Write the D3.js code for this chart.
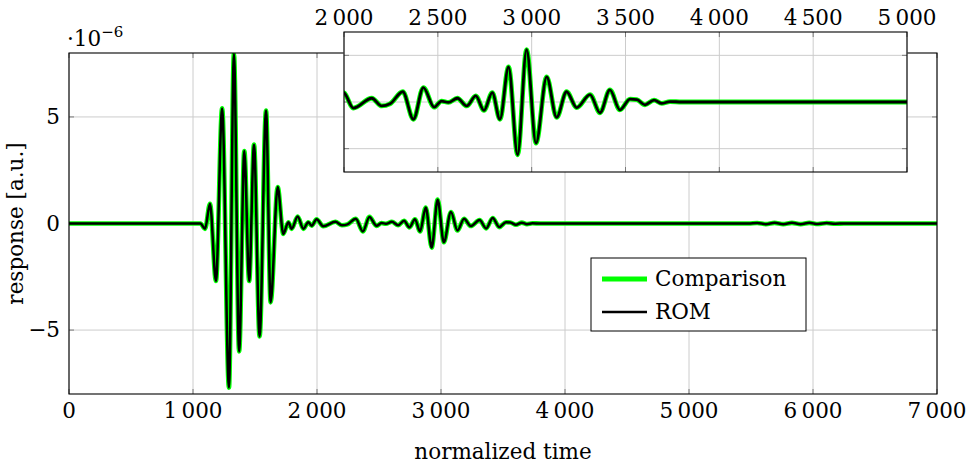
<!DOCTYPE html>
<html><head><meta charset="utf-8">
<script src="https://cdn.jsdelivr.net/npm/d3@7"></script>
<style>
body{margin:0;background:#fff}
svg{display:block}
text{font-family:"DejaVu Serif",serif;fill:#000}
</style>
</head><body>
<svg id="c" width="971" height="465"></svg>
<script>
// ---- data (response in units of 1e-6) ----
const times = [0,1000,1060,1097,1137,1185,1235,1290,1330,1372,1414,1453,1492,1537,1589,1626,1683,1728,1769,1796,1844,1890,1930,1957,1997,2050,2148,2201,2245,2313,2370,2423,2480,2520,2556,2604,2654,2702,2746,2790,2831,2877,2925,2973,3023,3080,3133,3186,3240,3311,3364,3417,3470,3524,3560,3604,3652,3693,3737,3800,4000,5480,5550,5620,5690,5760,5830,5900,5970,6040,6110,6180,6250,7000];
const comparisonResponse = [0,0,0,-0.25,0.93,-2.7,5.4,-7.7,7.95,-6.0,3.4,-2.7,3.7,-5.3,5.3,-3.7,1.71,-0.49,0.06,-0.25,0.33,-0.25,0.06,-0.1,0.2,-0.13,0.08,-0.085,-0.04,0.22,-0.37,0.31,-0.11,0.02,-0.01,0.08,-0.085,0.13,-0.18,0.2,-0.37,0.75,-1.13,1.12,-0.88,0.54,-0.33,0.22,-0.12,0.16,-0.23,0.26,-0.17,0.06,0.05,-0.06,0.04,-0.03,0.01,0,0,0,0.025,-0.03,0.03,-0.03,0.03,-0.03,0.03,-0.025,0.02,-0.01,0,0];
const romResponse = [0,0,0,-0.25,0.93,-2.7,5.4,-7.7,7.95,-6.0,3.4,-2.7,3.7,-5.3,5.3,-3.7,1.71,-0.49,0.06,-0.25,0.33,-0.25,0.06,-0.1,0.2,-0.13,0.08,-0.085,-0.04,0.22,-0.37,0.31,-0.11,0.02,-0.01,0.08,-0.085,0.13,-0.18,0.2,-0.37,0.75,-1.13,1.12,-0.88,0.54,-0.33,0.22,-0.12,0.16,-0.23,0.26,-0.17,0.06,0.05,-0.06,0.04,-0.03,0.01,0,0,0,0.025,-0.03,0.03,-0.03,0.03,-0.03,0.03,-0.025,0.02,-0.01,0,0];
const seriesNames = ["Comparison","ROM"];
const xTicks = [0,1000,2000,3000,4000,5000,6000,7000];
const yTicks = [-5,0,5];
const insetXTicks = [2000,2500,3000,3500,4000,4500,5000];
const insetYTicks = [-1,0,1];

// ---- layout ----
const svg = d3.select("#c");
svg.append("rect").attr("width",971).attr("height",465).attr("fill","#fff");
const M = {l:69, r:937, t:53, b:394};
const I = {l:344, r:907, t:32, b:172};
const GREEN = "#00ff00", GRID="#cccccc", TICK="#7a7a7a", FS=21.5;
const fmt = d => d3.format(",")(d).replace(/,/g,"\u2009");

const x = d3.scaleLinear().domain([0,7000]).range([M.l,M.r]);
const y = d3.scaleLinear().domain([-8,8]).range([M.b,M.t]);
const xi = d3.scaleLinear().domain([2000,5000]).range([I.l,I.r]);
const yi = d3.scaleLinear().domain([-1.5,1.5]).range([I.b,I.t]);

const defs = svg.append("defs");
defs.append("clipPath").attr("id","cm").append("rect").attr("x",M.l).attr("y",M.t).attr("width",M.r-M.l).attr("height",M.b-M.t);
defs.append("clipPath").attr("id","ci").append("rect").attr("x",I.l).attr("y",I.t).attr("width",I.r-I.l).attr("height",I.b-I.t);

function panel(g, xs, ys, xt, yt, clip, gw, bw){
  g.append("g").selectAll("line").data(xt).join("line")
    .attr("x1",d=>xs(d)).attr("x2",d=>xs(d)).attr("y1",ys.range()[1]).attr("y2",ys.range()[0])
    .attr("stroke",GRID).attr("stroke-width",1);
  g.append("g").selectAll("line").data(yt).join("line")
    .attr("y1",d=>ys(d)).attr("y2",d=>ys(d)).attr("x1",xs.range()[0]).attr("x2",xs.range()[1])
    .attr("stroke",GRID).attr("stroke-width",1);
  const [x0,x1] = xs.range(), [y1,y0] = ys.range();
  const tl = 5;
  const tg = g.append("g").attr("stroke",TICK).attr("stroke-width",1);
  xt.forEach(d=>{
    tg.append("line").attr("x1",xs(d)).attr("x2",xs(d)).attr("y1",y1).attr("y2",y1-tl);
    tg.append("line").attr("x1",xs(d)).attr("x2",xs(d)).attr("y1",y0).attr("y2",y0+tl);
  });
  yt.forEach(d=>{
    tg.append("line").attr("y1",ys(d)).attr("y2",ys(d)).attr("x1",x0).attr("x2",x0+tl);
    tg.append("line").attr("y1",ys(d)).attr("y2",ys(d)).attr("x1",x1).attr("x2",x1-tl);
  });
  const pts = times.map((t,i)=>[t,comparisonResponse[i]]);
  const pts2 = times.map((t,i)=>[t,romResponse[i]]);
  const line = d3.line().x(d=>xs(d[0])).y(d=>ys(d[1])).curve(d3.curveMonotoneX);
  const lg = g.append("g").attr("clip-path",`url(#${clip})`);
  lg.append("path").attr("d",line(pts)).attr("fill","none").attr("stroke",GREEN).attr("stroke-width",gw).attr("stroke-linejoin","round");
  lg.append("path").attr("d",line(pts2)).attr("fill","none").attr("stroke","#000").attr("stroke-width",bw).attr("stroke-linejoin","round");
  g.append("rect").attr("x",x0).attr("y",y0).attr("width",x1-x0).attr("height",y1-y0)
    .attr("fill","none").attr("stroke","#000").attr("stroke-width",1.1);
}

// main panel
const gm = svg.append("g");
panel(gm, x, y, xTicks, yTicks, "cm", 4.6, 2.5);
gm.append("g").selectAll("text").data(xTicks).join("text")
  .attr("x",d=>x(d)).attr("y",M.b+24).attr("text-anchor","middle").attr("font-size",FS).text(fmt);
gm.append("g").selectAll("text").data(yTicks).join("text")
  .attr("x",M.l-9).attr("y",d=>y(d)+7).attr("text-anchor","end").attr("font-size",FS).text(d=>d3.format("")(d));
const mult = gm.append("text").attr("x",M.l-2).attr("y",46).attr("font-size",FS);
mult.append("tspan").text("\u00b710");
mult.append("tspan").attr("dy",-9).attr("font-size",15).text("\u22126");
gm.append("text").attr("x",(M.l+M.r)/2).attr("y",459).attr("text-anchor","middle").attr("font-size",FS).text("normalized time");
gm.append("text").attr("transform",`translate(23,${(M.t+M.b)/2}) rotate(-90)`).attr("text-anchor","middle").attr("font-size",FS).text("response [a.u.]");

// legend
const L = {x:591, y:258, w:215, h:73};
const lgd = svg.append("g");
lgd.append("rect").attr("x",L.x).attr("y",L.y).attr("width",L.w).attr("height",L.h).attr("fill","#fff").attr("stroke","#000").attr("stroke-width",1);
seriesNames.forEach((n,i)=>{
  const cy = L.y + 21 + i*33;
  lgd.append("line").attr("x1",L.x+11).attr("x2",L.x+56).attr("y1",cy).attr("y2",cy)
    .attr("stroke", i===0?GREEN:"#000").attr("stroke-width", i===0?5:2.5);
  lgd.append("text").attr("x",L.x+64).attr("y",cy+7).attr("font-size",FS).text(n);
});

// inset
const gi = svg.append("g");
gi.append("rect").attr("x",I.l).attr("y",I.t).attr("width",I.r-I.l).attr("height",I.b-I.t).attr("fill","#fff");
panel(gi, xi, yi, insetXTicks, insetYTicks, "ci", 4.8, 2.8);
gi.append("g").selectAll("text").data(insetXTicks).join("text")
  .attr("x",d=>xi(d)).attr("y",I.t-7).attr("text-anchor","middle").attr("font-size",FS).text(fmt);
</script>
</body></html>
